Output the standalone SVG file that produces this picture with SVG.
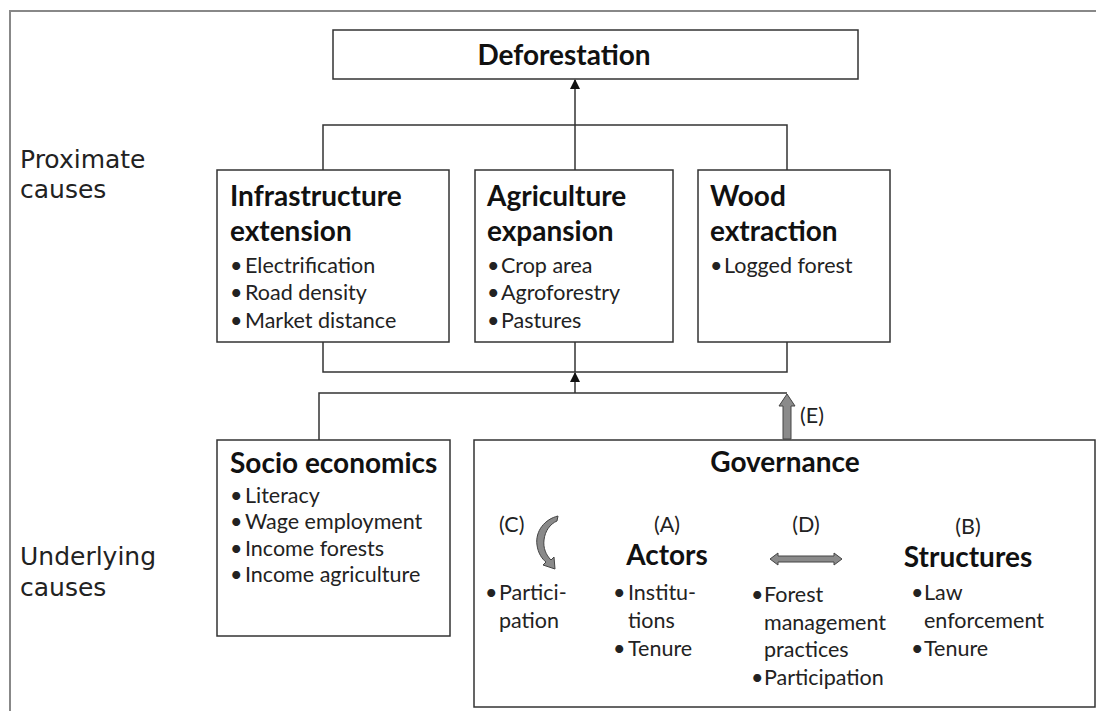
<svg xmlns="http://www.w3.org/2000/svg" width="1096" height="711" viewBox="0 0 1096 711">
<defs>
<style>
.box{fill:#fff;stroke:#333;stroke-width:1.5}
.ln{fill:none;stroke:#333;stroke-width:1.5}
.side{font-family:"DejaVu Sans",sans-serif;font-size:25px;fill:#222}
.tt{font-family:Lato,"Liberation Sans",sans-serif;font-weight:bold;font-size:28px;fill:#111}
.tx{font-family:Lato,"Liberation Sans",sans-serif;font-size:21.5px;fill:#222}
.blk{fill:#8a8a8a;stroke:#444;stroke-width:1}
</style>
<marker id="ah" viewBox="0 0 10 10" refX="9" refY="5" markerWidth="7" markerHeight="7" orient="auto">
<path d="M0,0 L10,5 L0,10 z" fill="#111"/>
</marker>
</defs>
<rect width="1096" height="711" fill="#fff"/>
<path d="M10,711 V11 H1096" fill="none" stroke="#888" stroke-width="2"/>

<g id="side-labels">
<text class="side" x="20" y="168">Proximate</text>
<text class="side" x="20" y="198">causes</text>
<text class="side" x="20" y="565">Underlying</text>
<text class="side" x="20" y="596">causes</text>
</g>

<g id="connectors">
<path class="ln" d="M323,170 V125 H787 V170"/>
<path class="ln" d="M575,170 V80" marker-end="url(#ah)"/>
<path class="ln" d="M323,342 V372 H787 V342"/>
<path class="ln" d="M575,342 V372"/>
<path class="ln" d="M319,440 V393 H787"/>
<path class="ln" d="M575,393 V373" marker-end="url(#ah)"/>
<path class="blk" d="M783,439 V406 H779 L787,394 L795,406 H791 V439 Z"/>
<text class="tx" x="800" y="423">(E)</text>
</g>

<g id="deforestation">
<rect class="box" x="333" y="30" width="525" height="49"/>
<text class="tt" x="564" y="65" text-anchor="middle">Deforestation</text>
</g>

<g id="infrastructure">
<rect class="box" x="217" y="170" width="232" height="172"/>
<text class="tt" x="230" y="206">Infrastructure</text>
<text class="tt" x="230" y="241">extension</text>
<text class="tx" x="230" y="273">•</text><text class="tx" x="245" y="273">Electrification</text>
<text class="tx" x="230" y="300">•</text><text class="tx" x="245" y="300">Road density</text>
<text class="tx" x="230" y="328">•</text><text class="tx" x="245" y="328">Market distance</text>
</g>

<g id="agriculture">
<rect class="box" x="475" y="170" width="198" height="172"/>
<text class="tt" x="487" y="206">Agriculture</text>
<text class="tt" x="487" y="241">expansion</text>
<text class="tx" x="487" y="273">•</text><text class="tx" x="501" y="273">Crop area</text>
<text class="tx" x="487" y="300">•</text><text class="tx" x="501" y="300">Agroforestry</text>
<text class="tx" x="487" y="328">•</text><text class="tx" x="501" y="328">Pastures</text>
</g>

<g id="wood">
<rect class="box" x="698" y="170" width="192" height="172"/>
<text class="tt" x="710" y="206">Wood</text>
<text class="tt" x="710" y="241">extraction</text>
<text class="tx" x="710" y="273">•</text><text class="tx" x="724" y="273">Logged forest</text>
</g>

<g id="socio">
<rect class="box" x="217" y="440" width="233" height="196"/>
<text class="tt" x="230" y="473">Socio economics</text>
<text class="tx" x="230" y="503">•</text><text class="tx" x="245" y="503">Literacy</text>
<text class="tx" x="230" y="529">•</text><text class="tx" x="245" y="529">Wage employment</text>
<text class="tx" x="230" y="556">•</text><text class="tx" x="245" y="556">Income forests</text>
<text class="tx" x="230" y="582">•</text><text class="tx" x="245" y="582">Income agriculture</text>
</g>

<g id="governance">
<rect class="box" x="474" y="440" width="621" height="267"/>
<text class="tt" x="785" y="472" text-anchor="middle">Governance</text>
<text class="tx" x="499" y="532">(C)</text>
<path class="blk" d="M558,516 C545,519 535,531 537,545 C538,553 542,559 546,562 L543,565 L555,569 L554,557 L551,560 C546,555 543,548 544,540 C545,531 550,524 557,521 Z"/>
<text class="tx" x="485" y="600">•</text><text class="tx" x="499" y="600">Partici-</text>
<text class="tx" x="499" y="628">pation</text>

<text class="tx" x="667" y="532" text-anchor="middle">(A)</text>
<text class="tt" x="667" y="565" text-anchor="middle">Actors</text>
<text class="tx" x="613" y="600">•</text><text class="tx" x="628" y="600">Institu-</text>
<text class="tx" x="628" y="628">tions</text>
<text class="tx" x="613" y="656">•</text><text class="tx" x="628" y="656">Tenure</text>

<text class="tx" x="806" y="532" text-anchor="middle">(D)</text>
<path class="blk" d="M770,559 L778,553 V556 H834 V553 L842,559 L834,565 V562 H778 V565 Z"/>
<text class="tx" x="751" y="602">•</text><text class="tx" x="764" y="602">Forest</text>
<text class="tx" x="764" y="630">management</text>
<text class="tx" x="764" y="657">practices</text>
<text class="tx" x="751" y="685">•</text><text class="tx" x="764" y="685">Participation</text>

<text class="tx" x="968" y="534" text-anchor="middle">(B)</text>
<text class="tt" x="968" y="567" text-anchor="middle">Structures</text>
<text class="tx" x="911" y="600">•</text><text class="tx" x="924" y="600">Law</text>
<text class="tx" x="924" y="628">enforcement</text>
<text class="tx" x="911" y="656">•</text><text class="tx" x="924" y="656">Tenure</text>
</g>
</svg>
